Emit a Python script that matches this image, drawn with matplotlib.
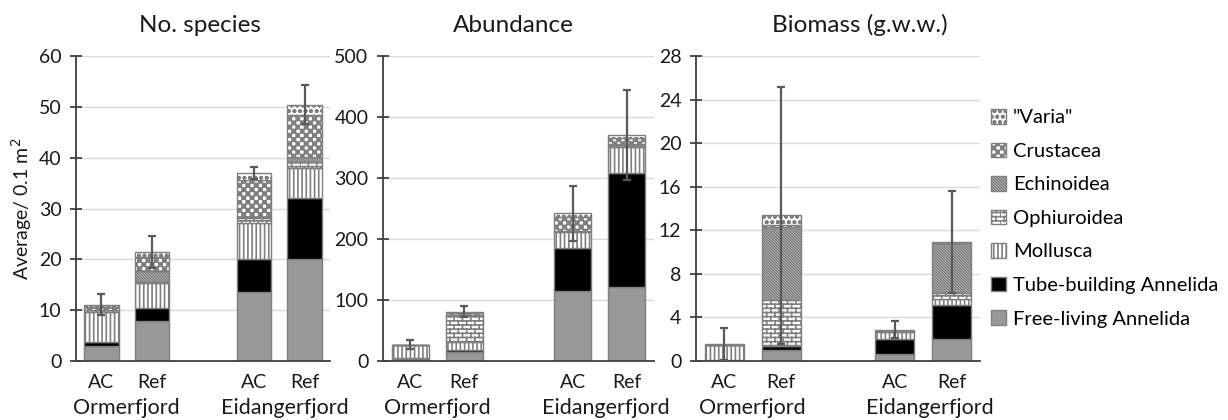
import warnings
import numpy as np
import matplotlib
matplotlib.use("Agg")
from matplotlib import pyplot as plt
from matplotlib import hatch as mhatch
from matplotlib.path import Path
import matplotlib.transforms as mtrans

warnings.filterwarnings("ignore")

# --- extra hatch patterns (checkerboard 'c', bricks 'b') ---
class CheckerHatch(mhatch.HatchPatternBase):
    def __init__(self, hatch, density):
        self.n = 24 if 'c' in hatch else 0
        self.num_vertices = (self.n * self.n // 2) * 5

    def set_vertices_and_codes(self, vertices, codes):
        n = self.n
        s = 1.0 / n
        d = 0.0035  # small inset so the stroke does not swallow the white squares
        k = 0
        for i in range(n):
            for j in range(n):
                if (i + j) % 2:
                    continue
                x0, y0 = i * s + d, j * s + d
                x1, y1 = (i + 1) * s - d, (j + 1) * s - d
                vertices[k:k + 5] = [(x0, y0), (x1, y0), (x1, y1), (x0, y1), (x0, y0)]
                codes[k:k + 5] = [Path.MOVETO, Path.LINETO, Path.LINETO, Path.LINETO, Path.CLOSEPOLY]
                k += 5


class BrickHatch(mhatch.HatchPatternBase):
    def __init__(self, hatch, density):
        self.rows = 24 if 'b' in hatch else 0
        self.cols = 12
        self.num_vertices = self.rows * 2 + self.rows * self.cols * 2

    def set_vertices_and_codes(self, vertices, codes):
        k = 0
        h = 1.0 / max(self.rows, 1)
        for r in range(self.rows):
            y = r * h
            vertices[k:k + 2] = [(0, y), (1, y)]
            codes[k:k + 2] = [Path.MOVETO, Path.LINETO]
            k += 2
            for c in range(self.cols):
                x = (c + 0.5 * (r % 2)) / self.cols
                vertices[k:k + 2] = [(x, y), (x, y + h)]
                codes[k:k + 2] = [Path.MOVETO, Path.LINETO]
                k += 2


mhatch._hatch_types.extend([CheckerHatch, BrickHatch])

plt.rcParams['font.family'] = ['Lato', 'DejaVu Sans']
plt.rcParams['hatch.linewidth'] = 1.2

# --- data ---
fjords = ['Ormerfjord', 'Eidangerfjord']
sites = ['AC', 'Ref', 'AC', 'Ref']
groups = ['Free-living Annelida', 'Tube-building Annelida', 'Mollusca',
          'Ophiuroidea', 'Echinoidea', 'Crustacea', '"Varia"']

# No. species  (AC Orm, Ref Orm, AC Eid, Ref Eid)
sp_free = [3.0, 7.8, 13.5, 20.0]
sp_tube = [0.7, 2.7, 6.6, 12.0]
sp_moll = [6.0, 4.8, 7.1, 6.0]
sp_ophi = [0.4, 0.2, 0.9, 1.2]
sp_echi = [0.0, 2.2, 0.2, 1.0]
sp_crus = [0.5, 2.8, 7.3, 8.2]
sp_vari = [0.5, 0.9, 1.4, 2.0]
sp_err = [2.1, 3.1, 1.2, 3.8]

# Abundance
ab_free = [4, 15, 115, 122]
ab_tube = [0.5, 2.5, 70, 187]
ab_moll = [21, 13.5, 26, 42]
ab_ophi = [0.5, 44, 2, 3]
ab_echi = [0, 0.5, 0.5, 1]
ab_crus = [0.5, 2.5, 22, 11]
ab_vari = [0.5, 2.5, 6.5, 4.5]
ab_err = [7, 9, 45, 73]

# Biomass (g.w.w.)
bm_free = [0.05, 1.0, 0.62, 2.05]
bm_tube = [0.03, 0.38, 1.4, 3.05]
bm_moll = [1.35, 0.12, 0.65, 0.55]
bm_ophi = [0.02, 4.1, 0.05, 0.55]
bm_echi = [0.0, 6.7, 0.0, 4.6]
bm_crus = [0.02, 0.15, 0.05, 0.05]
bm_vari = [0.08, 0.95, 0.1, 0.05]
bm_err = [1.45, 11.8, 0.78, 4.7]

panels = [
    ('No. species', [sp_free, sp_tube, sp_moll, sp_ophi, sp_echi, sp_crus, sp_vari], sp_err, 60, 10),
    ('Abundance', [ab_free, ab_tube, ab_moll, ab_ophi, ab_echi, ab_crus, ab_vari], ab_err, 500, 100),
    ('Biomass (g.w.w.)', [bm_free, bm_tube, bm_moll, bm_ophi, bm_echi, bm_crus, bm_vari], bm_err, 28, 4),
]

faces = ['#989898', 'black', 'white', 'white', 'white', 'white', 'white']
hatches = [None, None, '||||', 'b', '\\' * 12, 'c', 'ooo']

x = np.array([0, 1, 3, 4])
edge = '#7f7f7f'
axcol = '#404040'
txt = '#1a1a1a'

fig = plt.figure(figsize=(12.28, 4.2), dpi=100)
boxes = [(76, 330), (383, 654), (696, 980)]
title_x = [200, 513, 860]
W, H = 1228, 420

for k, (title, stacks, err, ymax, step) in enumerate(panels):
    l, r = boxes[k]
    ax = fig.add_axes([l / W, (H - 361) / H, (r - l) / W, (361 - 56) / H])
    bottom = np.zeros(4)
    for vals, fc, ht, name in zip(stacks, faces, hatches, groups):
        ax.bar(x, vals, width=0.68, bottom=bottom, color=fc, edgecolor=edge,
               linewidth=1.0, hatch=ht, label=name, zorder=2)
        bottom = bottom + np.array(vals)
    ax.errorbar(x, bottom, yerr=err, fmt='none', ecolor='#595959',
                elinewidth=1.6, capsize=3, capthick=1.6, zorder=3)
    ax.set_xlim(-0.5, 4.5)
    ax.set_ylim(0, ymax)
    ax.set_yticks(np.arange(0, ymax + step / 2, step))
    ax.yaxis.grid(True, color='#d9d9d9', linewidth=1.0, zorder=0)
    ax.set_axisbelow(True)
    for s in ['top', 'right']:
        ax.spines[s].set_visible(False)
    for s in ['left', 'bottom']:
        ax.spines[s].set_color(axcol)
        ax.spines[s].set_linewidth(1.3)
    ax.tick_params(axis='y', direction='inout', length=9, width=1.3, color=axcol,
                   labelsize=14, pad=6, labelcolor=txt)
    ax.set_xticks(x)
    ax.set_xticklabels(sites)
    ax.tick_params(axis='x', length=0, labelsize=14, pad=9, labelcolor=txt)
    tr = mtrans.blended_transform_factory(ax.transData, ax.transAxes)
    for gx, name in zip([0.5, 3.5], fjords):
        ax.text(gx + (0.12 if name == fjords[1] else 0), -0.155, name, transform=tr,
                ha='center', va='center', fontsize=15.5, color=txt)
    fig.text(title_x[k] / W, 1 - 25 / H, title, ha='center', va='center',
             fontsize=17.5, color=txt)
    if k == 0:
        ax.set_ylabel('Average/ 0.1 m$^2$', fontsize=14, color=txt, labelpad=3)
    if k == 2:
        h, lab = ax.get_legend_handles_labels()
        fig.legend(h[::-1], lab[::-1], loc='upper left',
                   bbox_to_anchor=(983 / W, 1 - 101 / H), frameon=False,
                   fontsize=14.5, handlelength=0.75, handleheight=0.75,
                   handletextpad=0.35, labelspacing=0.8, borderaxespad=0)

fig.savefig('out.png', dpi=100)
